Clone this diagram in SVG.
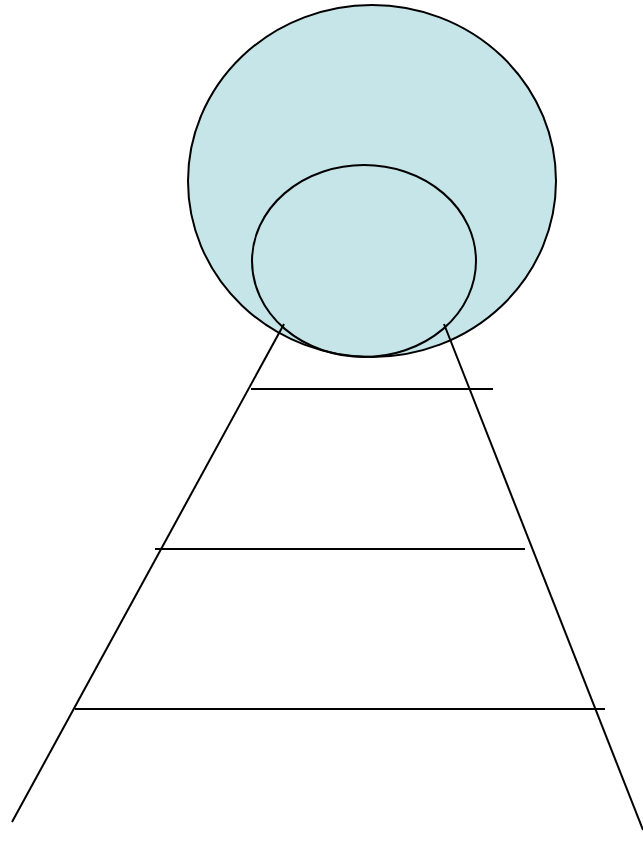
<svg xmlns="http://www.w3.org/2000/svg" width="643" height="857" viewBox="0 0 643 857">
<style>
.s{stroke:#000;stroke-width:2;fill:none}
.f{fill:#C6E5E8;stroke:#000;stroke-width:2}
</style>
<rect width="643" height="857" fill="#fff"/>
<g id="outer-circle"><ellipse class="f" cx="372" cy="181" rx="184" ry="176"/></g>
<g id="inner-ellipse"><ellipse class="s" cx="364" cy="261" rx="112" ry="96"/></g>
<g id="connectors">
<line class="s" x1="284" y1="324" x2="12" y2="822"/>
<line class="s" x1="444" y1="324" x2="643" y2="830"/>
<line class="s" x1="251" y1="389" x2="493" y2="389"/>
<line class="s" x1="155" y1="549" x2="525" y2="549"/>
<line class="s" x1="75" y1="709" x2="605" y2="709"/>
</g>
</svg>
